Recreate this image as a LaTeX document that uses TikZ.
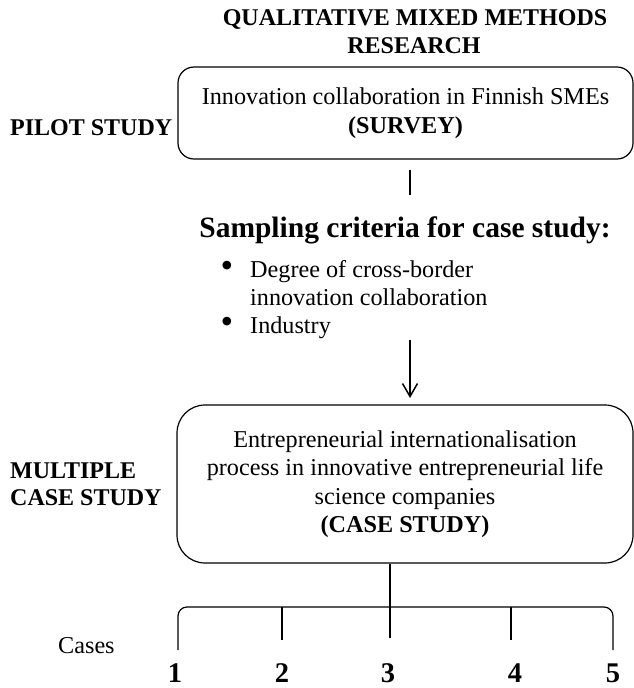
\documentclass[tikz,border=0pt]{standalone}
\usepackage{fontspec}
\setmainfont{Liberation Serif}
\usetikzlibrary{arrows.meta}
\begin{document}
\begin{tikzpicture}[x=1pt,y=-1pt,
  txt/.style={inner sep=0pt, font=\fontsize{24.2}{28.5}\selectfont},
  bold/.style={inner sep=0pt, font=\fontsize{24}{28.5}\selectfont\bfseries},
  big/.style={inner sep=0pt, font=\fontsize{29.5}{34}\selectfont\bfseries},
  num/.style={inner sep=0pt, font=\fontsize{28.5}{30}\selectfont\bfseries},
  dot/.style={inner sep=0pt, font=\fontsize{36}{36}\selectfont},
  box/.style={draw, line width=1.2pt, align=center, inner sep=0pt,
    font=\fontsize{24.2}{28.5}\selectfont},
  link/.style={line width=1.2pt},
]
\useasboundingbox (0,0) rectangle (634,688);

% heading
\node[bold, anchor=base] (t1) at (415,25) {QUALITATIVE MIXED METHODS};
\node[bold, anchor=base] (t2) at (414,53) {RESEARCH};

% pilot study
\node[box, rounded corners=16pt, minimum width=455pt, minimum height=92pt]
  (survey) at (405.5,113) {Innovation collaboration in Finnish SMEs\\\textbf{(SURVEY)}};
\node[bold, anchor=base west] (pilot) at (10,135) {PILOT STUDY};

\coordinate (s1) at (410,170);
\coordinate (s2) at (410,195);
\draw[line width=2.6pt] (s1) -- (s2);

% sampling criteria
\node[big, anchor=base] (crit) at (405,237) {Sampling criteria for case study:};
\node[dot] (b1) at (227,269) {\textbullet};
\node[txt, anchor=base west] (c1) at (250,277) {Degree of cross-border};
\node[txt, anchor=base west] (c2) at (250,305) {innovation collaboration};
\node[dot] (b2) at (227,325) {\textbullet};
\node[txt, anchor=base west] (c3) at (250,333) {Industry};

\coordinate (a1) at (410,340);
\coordinate (a2) at (410,398);
\draw[line width=1.5pt, -{Straight Barb[length=13pt,width=15pt,line width=1.5pt]}] (a1) -- (a2);

% multiple case study
\node[box, rounded corners=28pt, minimum width=456pt, minimum height=158pt]
  (cs) at (405,484) {Entrepreneurial internationalisation\\process in innovative entrepreneurial life\\science companies\\\textbf{(CASE STUDY)}};
\node[bold, anchor=base west] (m1) at (10,478) {MULTIPLE};
\node[bold, anchor=base west] (m2) at (10,505) {CASE STUDY};

% cases
\node[txt, anchor=base west] (cases) at (58,653) {Cases};
\node[num, anchor=base] (n1) at (175,682) {1};
\node[num, anchor=base] (n2) at (282,682) {2};
\node[num, anchor=base] (n3) at (388,682) {3};
\node[num, anchor=base] (n4) at (515,682) {4};
\node[num, anchor=base] (n5) at (613,682) {5};

\coordinate (e1) at (178,650);
\coordinate (e5) at (613,650);
\coordinate (e2) at (282,640);
\coordinate (e3) at (390,638);
\coordinate (e4) at (511,640);
\coordinate (hb) at (390,607);

\draw[link, rounded corners=9pt] (e1) -- (e1 |- hb) -- (e5 |- hb) -- (e5);
\draw[link] (e2 |- hb) -- (e2);
\draw[link] (e4 |- hb) -- (e4);
\draw[link] (e3 |- cs.south) -- (e3);
\end{tikzpicture}
\end{document}
